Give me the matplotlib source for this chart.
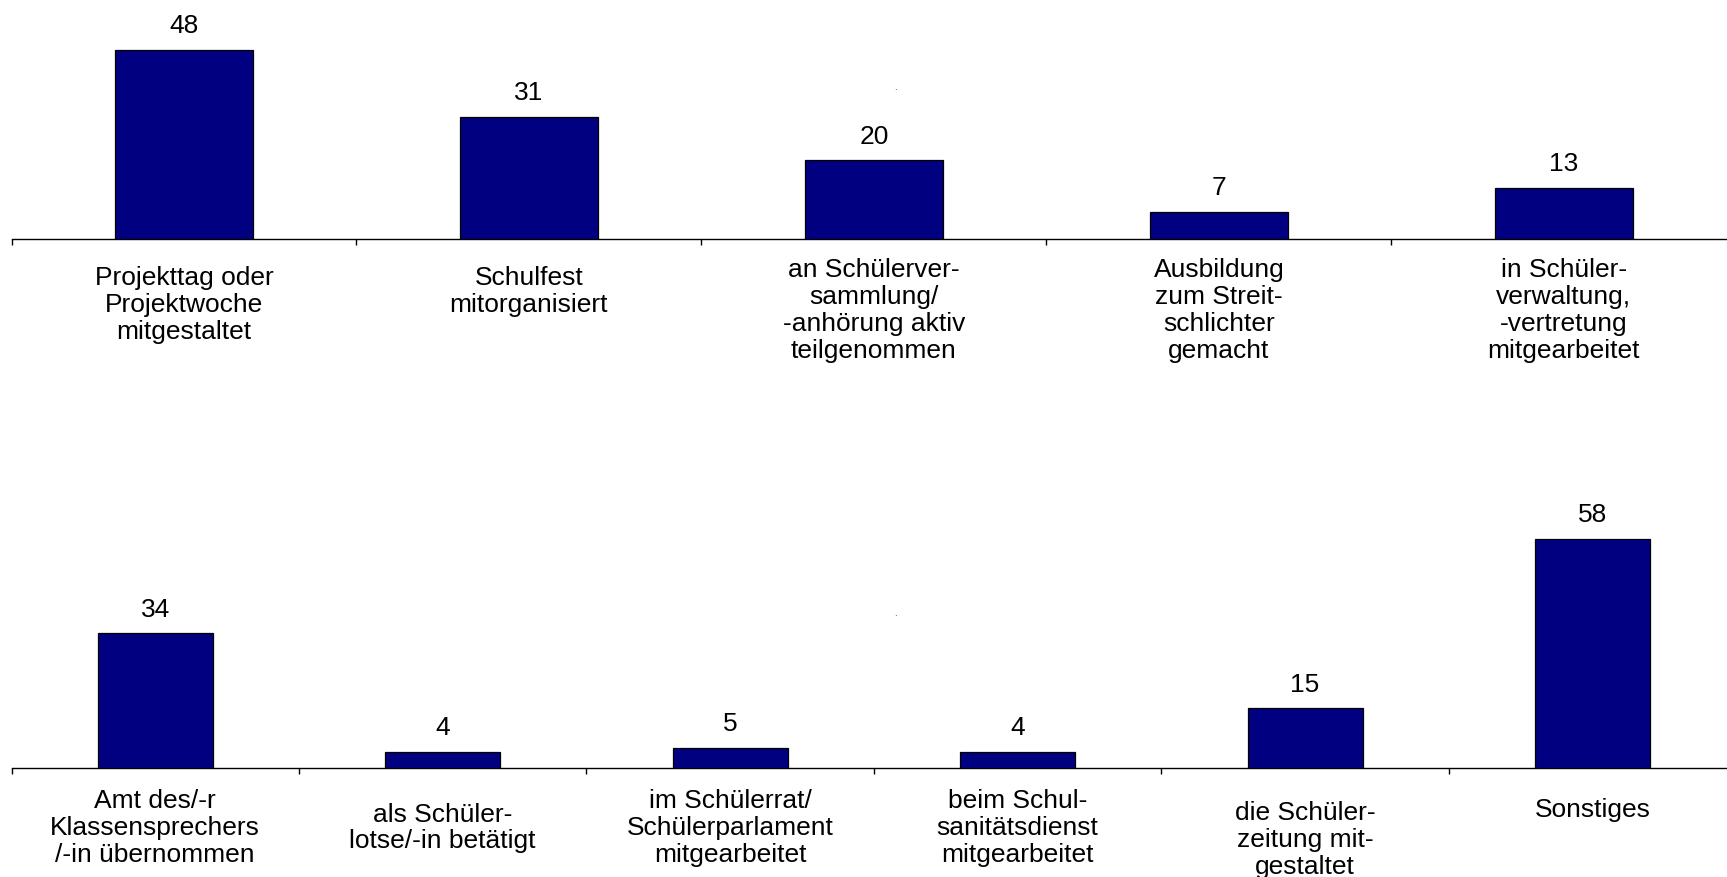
import matplotlib.pyplot as plt
from matplotlib.ticker import FixedLocator, NullFormatter

plt.rcParams["font.family"] = ["Liberation Sans", "DejaVu Sans"]

# Werte oben
top_labels = [
    "Projekttag oder\nProjektwoche\nmitgestaltet",
    "Schulfest\nmitorganisiert",
    "an Schülerver-\nsammlung/\n-anhörung aktiv\nteilgenommen",
    "Ausbildung\nzum Streit-\nschlichter\ngemacht",
    "in Schüler-\nverwaltung,\n-vertretung\nmitgearbeitet",
]
top_values = [48, 31, 20, 7, 13]

# Werte unten
bottom_labels = [
    "Amt des/-r\nKlassensprechers\n/-in übernommen",
    "als Schüler-\nlotse/-in betätigt",
    "im Schülerrat/\nSchülerparlament\nmitgearbeitet",
    "beim Schul-\nsanitätsdienst\nmitgearbeitet",
    "die Schüler-\nzeitung mit-\ngestaltet",
    "Sonstiges",
]
bottom_values = [34, 4, 5, 4, 15, 58]

# Abstand der Beschriftung unter der Achse (Pixel)
top_label_gap = [27, 27, 19, 19, 19]
bottom_label_gap = [22, 35, 22, 22, 34, 30]

W, H, DPI = 1727, 877, 100
BAR_COLOR = "#000080"
FS = 19

fig = plt.figure(figsize=(W / DPI, H / DPI), dpi=DPI)

left = 11.5 / W
width = 1724.8 / W
y_max = 60
ax_h = 236.5 / H


def draw_panel(ax, labels, values, gaps):
    n = len(values)
    x = list(range(n))
    ax.bar(x, values, width=0.4, color=BAR_COLOR, edgecolor="black", linewidth=0.9, zorder=3)
    ax.set_xlim(-0.5, n - 0.5)
    ax.set_ylim(0, y_max)

    for sp in ["top", "left", "right"]:
        ax.spines[sp].set_visible(False)
    ax.spines["bottom"].set_linewidth(1.0)
    ax.set_yticks([])

    # Striche an den Kategoriegrenzen
    ax.set_xticks([])
    ax.xaxis.set_minor_locator(FixedLocator([i - 0.5 for i in range(n + 1)]))
    ax.xaxis.set_minor_formatter(NullFormatter())
    ax.tick_params(axis="x", which="minor", direction="out", length=4.5, width=1.0)

    for i, v in enumerate(values):
        ax.annotate(str(v), xy=(i, v), xytext=(0, 12), textcoords="offset points",
                    ha="center", va="baseline", fontsize=FS)

    for i, lab in enumerate(labels):
        ax.annotate(lab, xy=(i, 0), xytext=(0, -gaps[i] * 72 / DPI), textcoords="offset points",
                    ha="center", va="top", multialignment="center", fontsize=FS,
                    linespacing=1.15, annotation_clip=False)


ax_top = fig.add_axes([left, (H - 239.3) / H, width, ax_h])
draw_panel(ax_top, top_labels, top_values, top_label_gap)

ax_bot = fig.add_axes([left, (H - 767.5) / H, width, ax_h])
draw_panel(ax_bot, bottom_labels, bottom_values, bottom_label_gap)

# kleine Markierungen über den Diagrammen
fig.text(895 / W, 1 - 87 / H, ".", fontsize=7, color="#333333", ha="center", va="center")
fig.text(895 / W, 1 - 613 / H, ".", fontsize=7, color="#333333", ha="center", va="center")

fig.savefig("out.png", dpi=DPI, facecolor="white")
